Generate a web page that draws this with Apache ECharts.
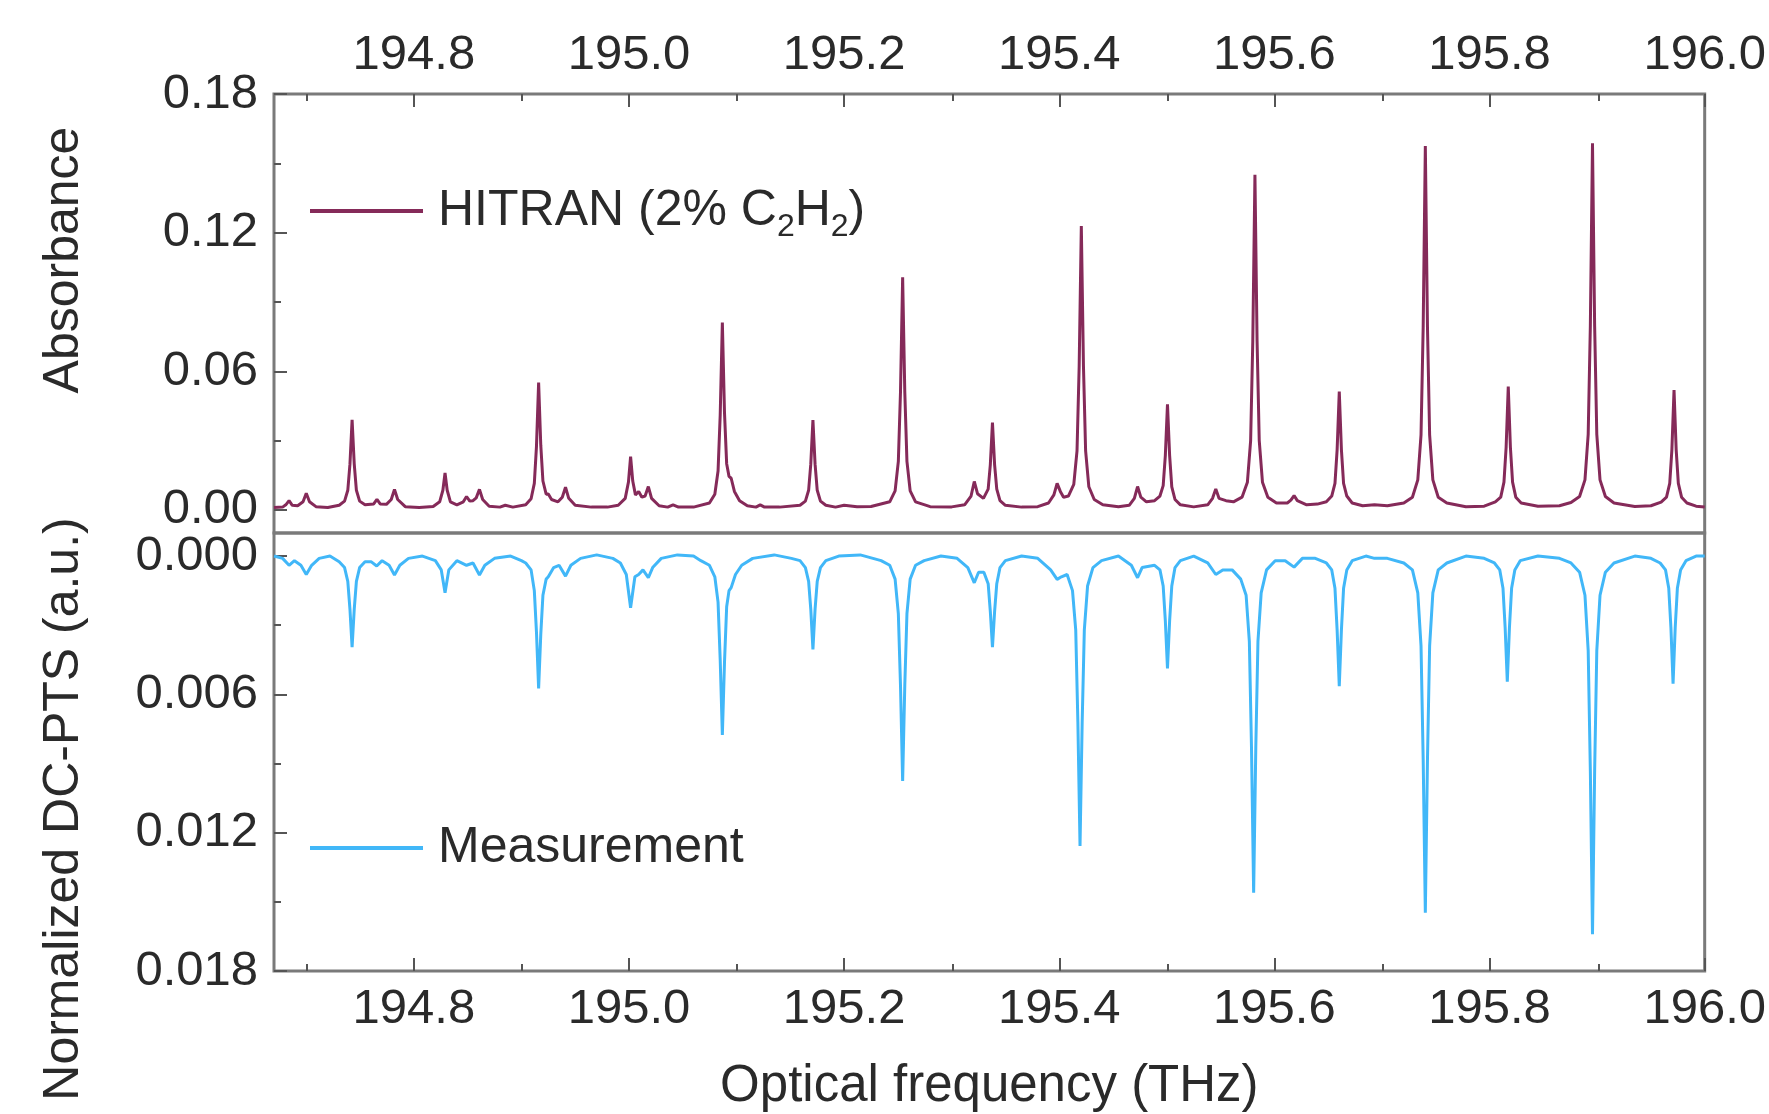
<!DOCTYPE html>
<html>
<head>
<meta charset="utf-8">
<script src="https://cdn.jsdelivr.net/npm/echarts@6/dist/echarts.min.js"></script>
<style>
html,body{margin:0;padding:0;background:#fff;}
#chart{width:1769px;height:1114px;}
</style>
</head>
<body>
<div id="chart"></div>
<script>
// ---------------- data ----------------
const freqRange = [194.67, 196.0];
const freqMajorTicks = [194.8, 195.0, 195.2, 195.4, 195.6, 195.8, 196.0];
const freqMinorTicks = [194.7, 194.9, 195.1, 195.3, 195.5, 195.7, 195.9];
const absRange = [-0.01, 0.18];
const absMajorTicks = [0, 0.06, 0.12, 0.18];
const absMinorTicks = [0.03, 0.09, 0.15];
const ptsRange = [-0.001, 0.018];
const ptsMajorTicks = [0, 0.006, 0.012, 0.018];
const ptsMinorTicks = [0.003, 0.009, 0.015];

// HITRAN absorbance, [frequency THz, absorbance]
const hitran = [
[194.670,0.0010],[194.678,0.0012],[194.681,0.0022],[194.684,0.0040],[194.687,0.0020],[194.692,0.0018],
[194.697,0.0035],[194.700,0.0072],[194.703,0.0035],[194.709,0.0014],[194.720,0.0010],
[194.7306,0.0020],[194.7356,0.0038],[194.7386,0.0085],[194.7406,0.0198],[194.7426,0.0390],[194.7446,0.0198],[194.7466,0.0085],[194.7496,0.0038],[194.7546,0.0022],
[194.7627,0.0026],[194.7657,0.0046],[194.7687,0.0026],[194.7745,0.0024],
[194.779,0.0045],[194.782,0.0089],[194.785,0.0045],[194.792,0.0014],[194.805,0.0010],[194.818,0.0015],
[194.824,0.0035],[194.827,0.0085],[194.829,0.0160],[194.831,0.0085],[194.834,0.0035],[194.840,0.0022],
[194.846,0.0035],[194.849,0.0058],[194.852,0.0038],[194.855,0.0040],
[194.858,0.0052],[194.861,0.0089],[194.864,0.0045],[194.870,0.0016],[194.880,0.0012],[194.885,0.0020],[194.892,0.0012],
[194.904,0.0022],[194.909,0.0048],[194.912,0.0115],[194.914,0.0275],[194.916,0.0551],[194.918,0.0280],[194.920,0.0125],[194.923,0.0068],
[194.925,0.0069],[194.928,0.0045],[194.934,0.0035],[194.938,0.0055],[194.941,0.0098],[194.944,0.0050],[194.950,0.0020],
[194.965,0.0012],[194.980,0.0012],
[194.990,0.0020],[194.9965,0.0050],[194.9995,0.0120],[195.0015,0.0231],[195.0035,0.0125],[195.006,0.0065],
[195.009,0.0080],[195.012,0.0055],[195.015,0.0060],[195.018,0.0101],[195.021,0.0050],[195.028,0.0018],
[195.036,0.0012],[195.041,0.0022],[195.046,0.0012],[195.060,0.0012],
[195.0748,0.0030],[195.0798,0.0068],[195.0828,0.0168],[195.0848,0.0410],[195.0868,0.0811],[195.0888,0.0420],[195.0908,0.0200],[195.093,0.0145],
[195.095,0.0137],[195.098,0.0080],[195.1028,0.0040],[195.110,0.0018],
[195.118,0.0012],[195.122,0.0022],[195.126,0.0012],[195.140,0.0012],
[195.159,0.0020],[195.164,0.0038],[195.167,0.0085],[195.169,0.0198],[195.171,0.0389],[195.173,0.0198],[195.175,0.0085],[195.178,0.0038],[195.183,0.0020],
[195.192,0.0012],[195.200,0.0020],[195.212,0.0014],[195.225,0.0015],
[195.2424,0.0035],[195.2474,0.0082],[195.2504,0.0210],[195.2524,0.0510],[195.2544,0.1007],[195.2564,0.0510],[195.2584,0.0210],[195.2614,0.0082],[195.2664,0.0035],
[195.280,0.0014],[195.300,0.0013],[195.312,0.0022],
[195.318,0.0060],[195.321,0.0123],[195.324,0.0070],[195.3295,0.0050],
[195.3339,0.0090],[195.3359,0.0195],[195.3379,0.0378],[195.3399,0.0195],[195.3419,0.0090],[195.3449,0.0040],[195.3499,0.0020],
[195.365,0.0012],[195.380,0.0014],[195.390,0.0030],
[195.395,0.0065],[195.398,0.0115],[195.401,0.0080],[195.404,0.0055],
[195.4085,0.0060],[195.4135,0.0110],[195.4165,0.0255],[195.4185,0.0620],[195.4205,0.1229],[195.4225,0.0620],[195.4245,0.0255],[195.4275,0.0100],[195.4325,0.0045],[195.4405,0.0022],
[195.455,0.0014],[195.465,0.0020],
[195.4698,0.0050],[195.4728,0.0101],[195.4758,0.0055],[195.481,0.0035],
[195.4886,0.0040],[195.4936,0.0060],[195.4966,0.0105],[195.4986,0.0235],[195.5006,0.0457],[195.5026,0.0235],[195.5046,0.0100],[195.5076,0.0045],[195.5126,0.0022],
[195.525,0.0013],[195.538,0.0022],
[195.5425,0.0050],[195.5455,0.0091],[195.5485,0.0050],[195.555,0.0040],
[195.5619,0.0035],[195.5699,0.0055],[195.5749,0.0120],[195.5779,0.0300],[195.5799,0.0730],[195.5819,0.1450],[195.5839,0.0730],[195.5859,0.0300],[195.5889,0.0120],[195.5939,0.0055],[195.6019,0.0030],
[195.612,0.0030],[195.6153,0.0042],[195.6183,0.0062],[195.6213,0.0040],[195.630,0.0022],[195.640,0.0025],
[195.6483,0.0035],[195.6533,0.0060],[195.6563,0.0115],[195.6583,0.0260],[195.6603,0.0512],[195.6623,0.0260],[195.6643,0.0115],[195.6673,0.0060],[195.6723,0.0030],
[195.682,0.0018],[195.693,0.0022],[195.705,0.0018],
[195.7203,0.0030],[195.7283,0.0055],[195.7333,0.0130],[195.7363,0.0325],[195.7383,0.0790],[195.7403,0.1575],[195.7423,0.0790],[195.7443,0.0325],[195.7473,0.0130],[195.7523,0.0055],[195.7603,0.0030],
[195.778,0.0014],[195.795,0.0016],
[195.8054,0.0035],[195.8104,0.0055],[195.8134,0.0120],[195.8154,0.0270],[195.8174,0.0534],[195.8194,0.0270],[195.8214,0.0120],[195.8244,0.0055],[195.8294,0.0030],
[195.845,0.0016],[195.865,0.0018],
[195.8757,0.0032],[195.8837,0.0058],[195.8887,0.0130],[195.8917,0.0327],[195.8937,0.0795],[195.8957,0.1587],[195.8977,0.0795],[195.8997,0.0327],[195.9027,0.0130],[195.9077,0.0058],[195.9157,0.0030],
[195.935,0.0015],[195.950,0.0018],
[195.9595,0.0034],[195.9645,0.0055],[195.9675,0.0115],[195.9695,0.0260],[195.9715,0.0519],[195.9735,0.0260],[195.9755,0.0115],[195.9785,0.0055],[195.9835,0.0030],
[195.992,0.0016],[196.000,0.0013]
];

// Measured normalized DC-PTS signal, [frequency THz, signal a.u.] (axis drawn inverted)
const measurement = [
[194.670,0.0000],[194.678,0.0001],[194.684,0.0004],[194.689,0.0002],[194.695,0.0004],[194.700,0.0008],[194.705,0.0004],[194.712,0.0001],[194.722,0.0000],
[194.7306,0.00025],[194.7356,0.0005],[194.7386,0.0011],[194.7406,0.0023],[194.7426,0.00395],[194.7446,0.0023],[194.7466,0.0011],[194.7496,0.0005],[194.7546,0.00025],
[194.7605,0.00025],[194.7655,0.00043],[194.7705,0.0002],[194.777,0.0004],[194.782,0.00082],[194.787,0.0004],[194.795,0.0001],[194.808,0.0000],
[194.820,0.0002],[194.8255,0.0006],[194.829,0.00159],[194.8325,0.0006],[194.840,0.0002],[194.849,0.0004],[194.855,0.0003],[194.861,0.00082],[194.866,0.0004],[194.875,0.0001],[194.890,0.0000],[194.900,0.0002],
[194.904,0.0003],[194.909,0.0006],[194.912,0.0015],[194.914,0.0033],[194.916,0.00574],[194.918,0.0034],[194.920,0.0017],[194.923,0.0010],
[194.925,0.0009],[194.930,0.0005],[194.935,0.0004],[194.941,0.00087],[194.946,0.0004],[194.955,0.0001],[194.970,-0.00005],[194.985,0.0001],
[194.992,0.0003],[194.9975,0.0008],[195.0015,0.00224],[195.0055,0.0009],[195.009,0.0008],[195.013,0.0006],[195.018,0.00094],[195.022,0.0005],[195.030,0.0001],[195.045,-0.00005],[195.060,0.0000],
[195.0668,0.0002],[195.0748,0.0004],[195.0798,0.0009],[195.0828,0.0020],[195.0848,0.0045],[195.0868,0.00776],[195.0888,0.0046],[195.0908,0.0022],[195.093,0.0015],
[195.095,0.00137],[195.099,0.0008],[195.1048,0.0004],[195.115,0.0001],[195.135,-0.00005],
[195.151,0.0001],[195.159,0.0002],[195.164,0.0005],[195.167,0.0011],[195.169,0.0023],[195.171,0.00405],[195.173,0.0023],[195.175,0.0011],[195.178,0.0005],[195.183,0.0002],
[195.195,0.0000],[195.215,-0.00005],
[195.2344,0.0002],[195.2424,0.0004],[195.2474,0.0010],[195.2504,0.0025],[195.2524,0.0056],[195.2544,0.00976],[195.2564,0.0056],[195.2584,0.0025],[195.2614,0.0010],[195.2664,0.0004],[195.2744,0.0002],
[195.290,0.0000],[195.305,0.0001],[195.315,0.0005],[195.321,0.00116],[195.325,0.0007],
[195.3299,0.0007],[195.3339,0.0012],[195.3359,0.0024],[195.3379,0.00395],[195.3399,0.0024],[195.3419,0.0012],[195.3449,0.0005],[195.3499,0.0002],
[195.365,0.0000],[195.380,0.0001],[195.392,0.0006],[195.398,0.00101],[195.402,0.0009],
[195.4073,0.0008],[195.4123,0.0015],[195.4153,0.0032],[195.4173,0.0072],[195.4193,0.01258],[195.4213,0.0072],[195.4233,0.0032],[195.4263,0.0013],[195.4313,0.0005],[195.4393,0.0002],
[195.455,0.0000],[195.467,0.0004],[195.4728,0.00094],[195.477,0.0005],
[195.4886,0.0004],[195.4936,0.0006],[195.4966,0.0013],[195.4986,0.0028],[195.5006,0.00487],[195.5026,0.0028],[195.5046,0.0013],[195.5076,0.0005],[195.5126,0.0002],
[195.525,0.0000],[195.538,0.0003],[195.5455,0.0008],[195.552,0.0006],
[195.5607,0.0006],[195.5687,0.0010],[195.5737,0.0017],[195.5767,0.0037],[195.5787,0.0083],[195.5807,0.0146],[195.5827,0.0083],[195.5847,0.0037],[195.5877,0.0016],[195.5927,0.0006],[195.6007,0.0002],
[195.610,0.0002],[195.6183,0.00048],[195.626,0.0001],[195.638,0.0001],
[195.6483,0.0003],[195.6533,0.0006],[195.6563,0.0014],[195.6583,0.0032],[195.6603,0.00564],[195.6623,0.0032],[195.6643,0.0014],[195.6673,0.0006],[195.6723,0.0002],
[195.685,0.0000],[195.693,0.0001],[195.705,0.0001],
[195.7203,0.0003],[195.7283,0.0006],[195.7333,0.0016],[195.7363,0.0039],[195.7383,0.0088],[195.7403,0.01547],[195.7423,0.0088],[195.7443,0.0039],[195.7473,0.0016],[195.7523,0.0006],[195.7603,0.0003],
[195.778,0.0000],[195.795,0.0001],
[195.8045,0.0003],[195.8095,0.0006],[195.8125,0.0014],[195.8145,0.0031],[195.8165,0.00545],[195.8185,0.0031],[195.8205,0.0014],[195.8235,0.0006],[195.8285,0.0002],
[195.845,0.0000],[195.865,0.0001],
[195.8757,0.0003],[195.8837,0.0007],[195.8887,0.0017],[195.8917,0.0041],[195.8937,0.0093],[195.8957,0.01641],[195.8977,0.0093],[195.8997,0.0041],[195.9027,0.0017],[195.9077,0.0007],[195.9157,0.0003],
[195.935,0.0000],[195.950,0.0001],
[195.9586,0.0003],[195.9636,0.0006],[195.9666,0.0014],[195.9686,0.0031],[195.9706,0.00554],[195.9726,0.0031],[195.9746,0.0014],[195.9776,0.0006],[195.9826,0.0002],
[195.992,0.0000],[196.000,0.0000]
];

// ---------------- chart ----------------
const FONT = '"Liberation Sans", Arial, sans-serif';
const TXT = '#2a2a2a';
const TICK = {show: true, inside: true, length: 13, lineStyle: {color: '#555', width: 2}};
const MINOR = {show: true, inside: true, length: 7, lineStyle: {color: '#555', width: 2}};
const LBL = {fontSize: 49, fontFamily: FONT, color: TXT};
const COL_H = '#852a59';
const COL_M = '#41b7f8';

const gridPos = [
  {left: 274, top: 94, width: 1432, height: 439},
  {left: 274, top: 533, width: 1432, height: 438}
];

function xAx(grid, pos, ticks, major, nameOpt) {
  return Object.assign({
    type: 'value', gridIndex: grid, position: pos, min: freqRange[0], max: freqRange[1],
    axisLine: {show: false, onZero: false}, splitLine: {show: false},
    axisTick: Object.assign({}, major ? TICK : MINOR, {customValues: ticks}),
    axisLabel: major ? Object.assign({customValues: ticks, margin: 14, formatter: v => v.toFixed(1)}, LBL) : {show: false}
  }, nameOpt || {});
}
function yAx(grid, range, ticks, major, inverse, digits) {
  return {
    type: 'value', gridIndex: grid, position: 'left', min: range[0], max: range[1], inverse: inverse,
    axisLine: {show: false, onZero: false}, splitLine: {show: false},
    axisTick: Object.assign({}, major ? TICK : MINOR, {customValues: ticks}),
    axisLabel: major ? Object.assign({customValues: ticks, margin: 16, formatter: v => v.toFixed(digits)}, LBL) : {show: false}
  };
}

const chart = echarts.init(document.getElementById('chart'), null, {renderer: 'canvas'});
chart.setOption({
  animation: false,
  backgroundColor: '#fff',
  grid: [
    Object.assign({show: true, borderColor: '#7a7a7a', borderWidth: 3, backgroundColor: 'transparent'}, gridPos[0]),
    Object.assign({show: true, borderColor: '#7a7a7a', borderWidth: 3, backgroundColor: 'transparent'}, gridPos[1]),
    Object.assign({show: false}, gridPos[0]),
    Object.assign({show: false}, gridPos[1])
  ],
  xAxis: [
    xAx(0, 'top', freqMajorTicks, true),
    xAx(1, 'bottom', freqMajorTicks, true, {
      name: 'Optical frequency (THz)', nameLocation: 'middle', nameGap: 90,
      nameTextStyle: {fontSize: 51, fontFamily: FONT, color: TXT}
    }),
    xAx(2, 'top', freqMinorTicks, false),
    xAx(3, 'bottom', freqMinorTicks, false)
  ],
  yAxis: [
    yAx(0, absRange, absMajorTicks, true, false, 2),
    yAx(1, ptsRange, ptsMajorTicks, true, true, 3),
    yAx(2, absRange, absMinorTicks, false, false, 2),
    yAx(3, ptsRange, ptsMinorTicks, false, true, 3)
  ],
  legend: [
    {
      data: ['HITRAN'], left: 310, top: 179, padding: 0, icon: 'rect', itemWidth: 113, itemHeight: 4,
      formatter: () => 'HITRAN (2% C{sub|2}H{sub|2})',
      textStyle: {fontSize: 50, fontFamily: FONT, color: TXT, lineHeight: 64, padding: [0, 0, 0, 10],
        rich: {sub: {fontSize: 32, fontFamily: FONT, color: TXT, lineHeight: 30, verticalAlign: 'bottom'}}}
    },
    {
      data: ['Measurement'], left: 310, top: 816, padding: 0, icon: 'rect', itemWidth: 113, itemHeight: 4,
      textStyle: {fontSize: 50, fontFamily: FONT, color: TXT, lineHeight: 64, padding: [0, 0, 0, 10]}
    }
  ],
  graphic: [
    {type: 'text', x: 64, y: 260, rotation: Math.PI / 2,
      style: {text: 'Absorbance', font: '50px ' + FONT, fill: TXT, align: 'center', verticalAlign: 'middle'}},
    {type: 'text', x: 64, y: 809, rotation: Math.PI / 2,
      style: {text: 'Normalized DC-PTS (a.u.)', font: '50px ' + FONT, fill: TXT, align: 'center', verticalAlign: 'middle'}}
  ],
  series: [
    {name: 'HITRAN', type: 'line', xAxisIndex: 0, yAxisIndex: 0, data: hitran, showSymbol: false,
      lineStyle: {color: COL_H, width: 3}, itemStyle: {color: COL_H}},
    {name: 'Measurement', type: 'line', xAxisIndex: 1, yAxisIndex: 1, data: measurement, showSymbol: false,
      lineStyle: {color: COL_M, width: 3}, itemStyle: {color: COL_M}}
  ]
});
</script>
</body>
</html>
